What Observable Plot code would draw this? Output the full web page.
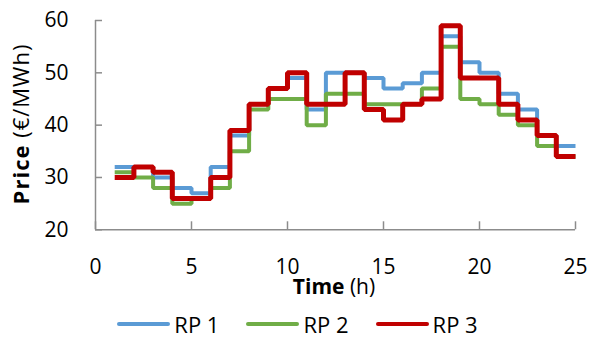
<!DOCTYPE html>
<html>
<head>
<meta charset="utf-8">
<script src="https://cdn.jsdelivr.net/npm/d3@7"></script>
<script src="https://cdn.jsdelivr.net/npm/@observablehq/plot@0.6"></script>
<style>
  body { margin: 0; background: #fff; font-family: "Open Sans", sans-serif; }
  #chart { width: 590px; height: 305px; }
  #legend { width: 590px; height: 37px; display: flex; justify-content: center; align-items: center; padding-left: 5px; box-sizing: border-box; font-size: 22px; color: #000; }
  .item { display: flex; align-items: center; margin: 0 13.5px; }
  .swatch { width: 53px; height: 4px; border-radius: 2px; margin-right: 4px; }
</style>
</head>
<body>
<div id="chart"></div>
<div id="legend"></div>
<script>
// Hours (start of each 1-hour step)
const hours = [1,2,3,4,5,6,7,8,9,10,11,12,13,14,15,16,17,18,19,20,21,22,23,24];
const seriesNames = ["RP 1", "RP 2", "RP 3"];
const seriesColors = ["#5B9BD5", "#70AD47", "#C00000"];
const seriesWidths = [4, 4, 5];
const rp1 = [32,32,30,28,27,32,38,44,47,49,43,50,50,49,47,48,50,57,52,50,46,43,38,36];
const rp2 = [31,30,28,25,26,28,35,43,45,45,40,46,46,44,44,44,47,55,45,44,42,40,36,34];
const rp3 = [30,32,31,26,26,30,39,44,47,50,44,44,50,43,41,44,45,59,49,49,44,41,38,34];
const xTicks = [0, 5, 10, 15, 20, 25];
const yTicks = [20, 30, 40, 50, 60];
const endHour = 25;

const allValues = [rp1, rp2, rp3];
// step-after data: each value holds for one hour; the last value is held to hour 25
function stepData(name, vals) {
  const d = hours.map((h, i) => ({series: name, hour: h, price: vals[i]}));
  d.push({series: name, hour: endHour, price: vals[vals.length - 1]});
  return d;
}
const datasets = seriesNames.map((n, i) => stepData(n, allValues[i]));

const axisColor = "#8c8c8c";

const chart = Plot.plot({
  width: 590,
  height: 305,
  marginLeft: 95,
  marginRight: 15,
  marginTop: 20,
  marginBottom: 75.7,
  style: {fontFamily: "'Open Sans', sans-serif", fontSize: "21px", color: "#000", background: "#fff"},
  x: {domain: [0, 25]},
  y: {domain: [20, 60]},
  marks: [
    Plot.axisY(yTicks, {tickSize: -7, tickPadding: 34, stroke: axisColor, fill: "#000", strokeWidth: 1.5, fontSize: 21, label: null}),
    Plot.axisX(xTicks, {tickSize: -8, tickPadding: 37, stroke: axisColor, fill: "#000", strokeWidth: 1.5, fontSize: 21, label: null}),
    Plot.ruleX([0], {stroke: axisColor, strokeWidth: 1.5}),
    Plot.ruleY([20], {stroke: axisColor, strokeWidth: 1.5}),
    ...datasets.map((d, i) => Plot.line(d, {
      x: "hour", y: "price", curve: "step-after",
      stroke: seriesColors[i], strokeWidth: seriesWidths[i],
      strokeLinejoin: "miter", strokeLinecap: "butt"
    }))
  ]
});
document.getElementById("chart").appendChild(chart);

// Axis titles with bold first word
const svg = d3.select(chart);
const yt = svg.append("text")
  .attr("transform", "translate(29,124) rotate(-90)")
  .attr("text-anchor", "middle")
  .attr("font-size", 22)
  .attr("letter-spacing", 1)
  .attr("fill", "#000");
yt.append("tspan").attr("font-weight", "bold").text("Price");
yt.append("tspan").text(" (€/MWh)");

const xt = svg.append("text")
  .attr("x", 334)
  .attr("y", 294)
  .attr("text-anchor", "middle")
  .attr("font-size", 21)
  .attr("fill", "#000");
xt.append("tspan").attr("font-weight", "bold").text("Time");
xt.append("tspan").text(" (h)");

// Legend
const legend = d3.select("#legend");
seriesNames.forEach((n, i) => {
  const it = legend.append("div").attr("class", "item");
  it.append("div").attr("class", "swatch").style("background", seriesColors[i]);
  it.append("span").text(n);
});
</script>
</body>
</html>
